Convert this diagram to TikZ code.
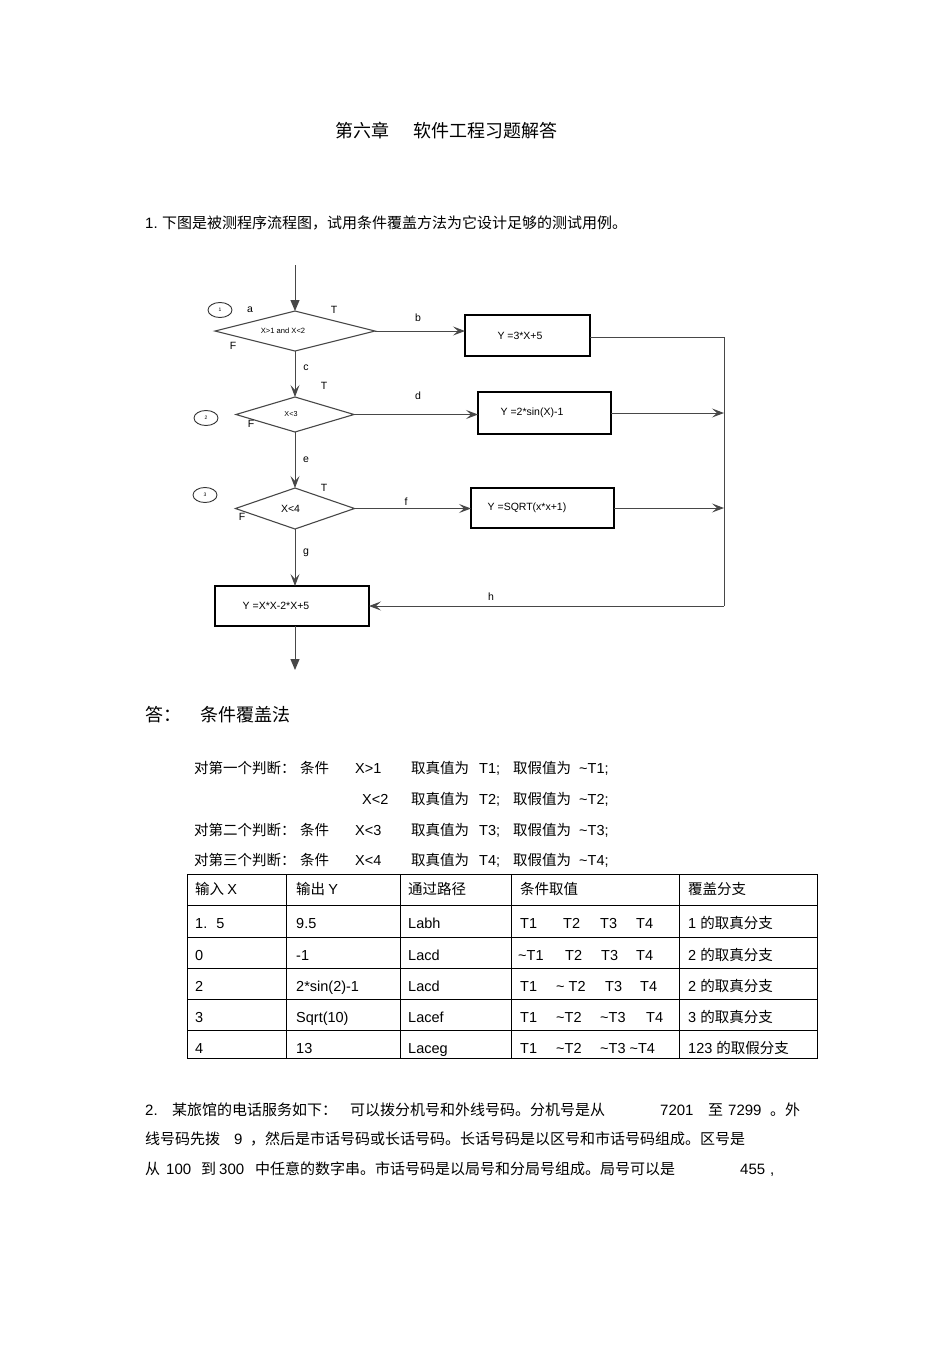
\documentclass[tikz,border=0pt]{standalone}
\usepackage{fontspec}
\setmainfont{Liberation Sans}
\newfontfamily\cjk{Noto Sans CJK SC}
\usetikzlibrary{arrows.meta,shapes.geometric}
\definecolor{lgray}{HTML}{474747}
\newcommand\myfs[1]{\fontsize{#1pt}{#1pt}\selectfont}
\tikzset{
  flow/.style={draw=lgray, line width=1pt},
  oarrow/.style={-{Stealth[length=12pt,width=9pt,inset=5pt]}},
  farrow/.style={-{Triangle[length=11pt,width=9pt]}},
  dia/.style={diamond, draw=lgray, line width=1.1pt, inner sep=0pt, outer sep=0pt},
  box/.style={rectangle, draw=black, line width=1.3pt, inner sep=0pt, outer sep=0pt, font=\myfs{10.5}},
  circ/.style={ellipse, draw=black!80, line width=0.9pt, minimum width=24pt, minimum height=15pt, inner sep=0pt, font=\myfs{5}},
  lab/.style={inner sep=0pt, font=\myfs{10.5}},
  txt/.style={inner sep=0pt, anchor=west, text height=0.9em, text depth=0em},
  tline/.style={draw=black, line width=0.9pt}
}
\begin{document}
\begin{tikzpicture}[x=1pt,y=-1pt]
\useasboundingbox[fill=white] (0,0) rectangle (950,1345);

% ---------- title and question 1 ----------
\node[txt, font=\myfs{18}] (t1) at (335,133) {\cjk 第六章};
\node[txt, font=\myfs{18}] (t2) at (413,133) {\cjk 软件工程习题解答};
\node[txt, font=\myfs{15}] (q1n) at (145,224) {1.};
\node[txt, font=\myfs{15}] (q1) at (162,224) {\cjk 下图是被测程序流程图，试用条件覆盖方法为它设计足够的测试用例。};

% ---------- flowchart ----------
\node[dia, minimum width=160pt, minimum height=40pt, aspect=4, font=\myfs{7.6}] (d1) at (295,331) {X>1 and X<2\kern24pt};
\node[dia, minimum width=118pt, minimum height=35pt, aspect=3.4, font=\myfs{7.2}] (d2) at (295,414.5) {X<3\kern8pt};
\node[dia, minimum width=119pt, minimum height=41pt, aspect=2.9, font=\myfs{10.5}] (d3) at (295,508.5) {X<4\kern9pt};

\node[box, minimum width=125pt, minimum height=41pt] (b1) at (527.5,335.5) {Y =3*X+5\kern15pt};
\node[box, minimum width=133pt, minimum height=42pt] (b2) at (544.5,413) {Y =2*sin(X)-1\kern25pt};
\node[box, minimum width=143pt, minimum height=40pt] (b3) at (542.5,508) {Y =SQRT(x*x+1)\kern31pt};
\node[box, minimum width=154pt, minimum height=40pt] (b4) at (292,606) {Y =X*X-2*X+5\kern32pt};

\node[circ] (c1) at (220,310) {1};
\node[circ] (c2) at (206,418) {2};
\node[circ] (c3) at (205,495) {3};

\node[lab] (la) at (250,310) {a};
\node[lab] (lT1) at (334,310) {T};
\node[lab] (lF1) at (233,346) {F};
\node[lab] (lb) at (418,318) {b};
\node[lab] (lc) at (306,368) {c};
\node[lab] (lT2) at (324,386) {T};
\node[lab] (lF2) at (251,424) {F};
\node[lab] (ld) at (418,396) {d};
\node[lab] (le) at (306,460) {e};
\node[lab] (lT3) at (324,488) {T};
\node[lab] (lF3) at (242,517) {F};
\node[lab] (lf) at (406,502) {f};
\node[lab] (lg) at (306,553) {g};
\node[lab] (lh) at (491,597) {h};

\coordinate (start) at (295,265);
\coordinate (jt) at (724,337);
\coordinate (jb) at (724,606);
\coordinate (stop) at (295,670);

\draw[flow,farrow] (start) -- (d1.north);
\draw[flow,oarrow] (d1.east) -- (d1.east -| b1.west);
\draw[flow,oarrow] (d2.east) -- (d2.east -| b2.west);
\draw[flow,oarrow] (d3.east) -- (d3.east -| b3.west);
\draw[flow,oarrow] (d1.south) -- (d2.north);
\draw[flow,oarrow] (d2.south) -- (d3.north);
\draw[flow,oarrow] (d3.south) -- (d3.south |- b4.north);
\draw[flow] (b1.east |- jt) -- (jt) -- (jb);
\draw[flow,oarrow] (b2.east) -- (b2.east -| jt);
\draw[flow,oarrow] (b3.east) -- (b3.east -| jt);
\draw[flow,oarrow] (jb) -- (b4.east);
\draw[flow,farrow] (b4.south -| stop) -- (stop);

% ---------- answer ----------
\node[txt, font=\myfs{18}] (ans) at (145,717) {\cjk 答：};
\node[txt, font=\myfs{18}] (ansm) at (200,717) {\cjk 条件覆盖法};

\foreach \yy/\pre/\cond/\tv in {769/对第一个判断：/X>1/1, 800//X<2/2, 831/对第二个判断：/X<3/3, 861/对第三个判断：/X<4/4}{
  \node[txt, font=\myfs{14.5}] (p\tv) at (194,\yy) {\cjk \pre};
  \ifnum\tv=2\relax
    \node[txt, font=\myfs{14.5}] (x\tv) at (362,\yy) {\cond};
  \else
    \node[txt, font=\myfs{14.5}] (k\tv) at (300,\yy) {\cjk 条件};
    \node[txt, font=\myfs{14.5}] (x\tv) at (355,\yy) {\cond};
  \fi
  \node[txt, font=\myfs{14.5}] (zt\tv) at (411,\yy) {\cjk 取真值为};
  \node[txt, font=\myfs{14.5}] (vt\tv) at (479,\yy) {T\tv;};
  \node[txt, font=\myfs{14.5}] (zf\tv) at (513,\yy) {\cjk 取假值为};
  \node[txt, font=\myfs{14.5}] (vf\tv) at (579,\yy) {\textasciitilde T\tv;};
}

% ---------- table ----------
\draw[tline] (187,874) rectangle (817,1058);
\foreach \yy in {905,937,968,999,1030}{\draw[tline] (187,\yy) -- (817,\yy);}
\foreach \xx in {286,400,511,679}{\draw[tline] (\xx,874) -- (\xx,1058);}

\begin{scope}[every node/.style={txt, font=\myfs{14.5}}]
\node (h1) at (195,890) {\cjk 输入\ \normalfont X};
\node (h2) at (296,890) {\cjk 输出\ \normalfont Y};
\node (h3) at (408,890) {\cjk 通过路径};
\node (h4) at (520,890) {\cjk 条件取值};
\node (h5) at (688,890) {\cjk 覆盖分支};

\node (r1a) at (195,924) {1.\hspace{9pt}5};
\node (r1b) at (296,924) {9.5};
\node (r1c) at (408,924) {Labh};
\node (r1d) at (520,924) {T1};
\node (r1e) at (563,924) {T2};
\node (r1f) at (600,924) {T3};
\node (r1g) at (636,924) {T4};
\node (r1h) at (688,924) {1 {\cjk 的取真分支}};

\node (r2a) at (195,956) {0};
\node (r2b) at (296,956) {-1};
\node (r2c) at (408,956) {Lacd};
\node (r2d) at (518,956) {\textasciitilde T1};
\node (r2e) at (565,956) {T2};
\node (r2f) at (601,956) {T3};
\node (r2g) at (636,956) {T4};
\node (r2h) at (688,956) {2 {\cjk 的取真分支}};

\node (r3a) at (195,987) {2};
\node (r3b) at (296,987) {2*sin(2)-1};
\node (r3c) at (408,987) {Lacd};
\node (r3d) at (520,987) {T1};
\node (r3e) at (556,987) {\textasciitilde\ T2};
\node (r3f) at (605,987) {T3};
\node (r3g) at (640,987) {T4};
\node (r3h) at (688,987) {2 {\cjk 的取真分支}};

\node (r4a) at (195,1018) {3};
\node (r4b) at (296,1018) {Sqrt(10)};
\node (r4c) at (408,1018) {Lacef};
\node (r4d) at (520,1018) {T1};
\node (r4e) at (556,1018) {\textasciitilde T2};
\node (r4f) at (600,1018) {\textasciitilde T3};
\node (r4g) at (646,1018) {T4};
\node (r4h) at (688,1018) {3 {\cjk 的取真分支}};

\node (r5a) at (195,1049) {4};
\node (r5b) at (296,1049) {13};
\node (r5c) at (408,1049) {Laceg};
\node (r5d) at (520,1049) {T1};
\node (r5e) at (556,1049) {\textasciitilde T2};
\node (r5f) at (600,1049) {\textasciitilde T3 \textasciitilde T4};
\node (r5h) at (688,1049) {123 {\cjk 的取假分支}};
\end{scope}

% ---------- question 2 ----------
\begin{scope}[every node/.style={txt, font=\myfs{15}}]
\node (s1a) at (145,1111) {2.};
\node (s1b) at (172,1111) {\cjk 某旅馆的电话服务如下：};
\node (s1c) at (350,1111) {\cjk 可以拨分机号和外线号码。分机号是从};
\node (s1d) at (660,1111) {7201};
\node (s1e) at (708,1111) {\cjk 至};
\node (s1f) at (728,1111) {7299};
\node (s1g) at (770,1111) {\cjk 。外};

\node (s2a) at (145,1140) {\cjk 线号码先拨};
\node (s2b) at (234,1140) {9};
\node (s2c) at (250,1140) {\cjk ，然后是市话号码或长话号码。长话号码是以区号和市话号码组成。区号是};

\node (s3a) at (145,1170) {\cjk 从};
\node (s3b) at (166,1170) {100};
\node (s3c) at (201,1170) {\cjk 到};
\node (s3d) at (219,1170) {300};
\node (s3e) at (255,1170) {\cjk 中任意的数字串。市话号码是以局号和分局号组成。局号可以是};
\node (s3f) at (740,1170) {455};
\node (s3g) at (770,1170) {,};
\end{scope}
\end{tikzpicture}
\end{document}
